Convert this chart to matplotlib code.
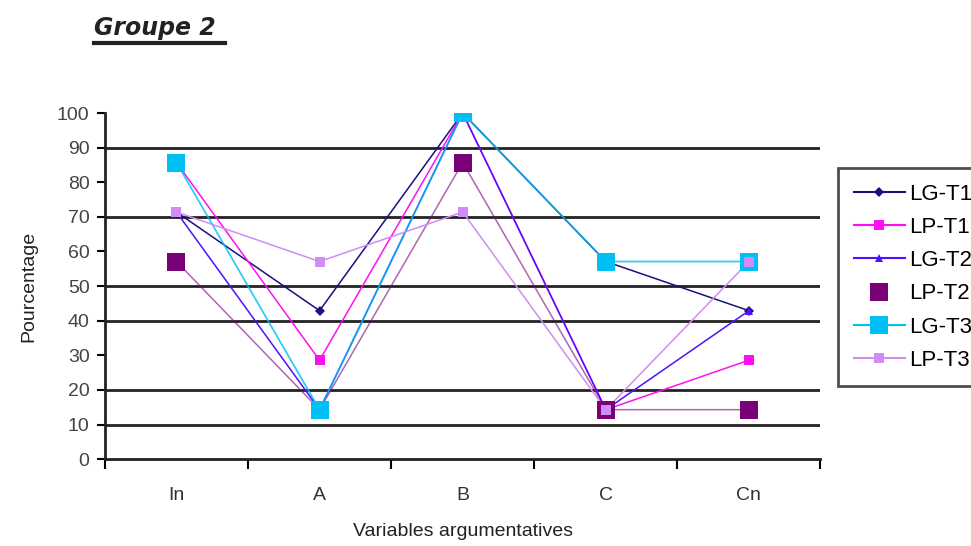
import matplotlib.pyplot as plt
from matplotlib.lines import Line2D

plt.rcParams['font.family'] = ['Liberation Sans', 'DejaVu Sans']

CATEGORIES = ["In", "A", "B", "C", "Cn"]
LG_T1 = [71.4, 42.9, 100.0, 57.1, 42.9]
LP_T1 = [85.7, 28.6, 100.0, 14.3, 28.6]
LG_T2 = [71.4, 14.3, 100.0, 14.3, 42.9]
LP_T2 = [57.1, 14.3, 85.7, 14.3, 14.3]
LG_T3 = [85.7, 14.3, 100.0, 57.1, 57.1]
LP_T3 = [71.4, 57.1, 71.4, 14.3, 57.1]
GRID_LEVELS = [10, 20, 40, 50, 70, 90]

# (label, values, color, marker, size, line alpha, line width)
SERIES = [
    ("LG-T1", LG_T1, "#1c0f80", "D", 5, 1.0, 1.1),
    ("LP-T1", LP_T1, "#ff10f0", "s", 7, 1.0, 1.1),
    ("LG-T2", LG_T2, "#5010ff", "^", 6, 1.0, 1.1),
    ("LP-T2", LP_T2, "#7a0078", "s", 13, 0.6, 1.1),
    ("LG-T3", LG_T3, "#00bff5", "s", 13, 0.8, 1.3),
    ("LP-T3", LP_T3, "#d08cf5", "s", 7, 1.0, 1.1),
]

fig = plt.figure(figsize=(9.71, 5.46), dpi=100)
ax = fig.add_axes([0.108, 0.159, 0.737, 0.634])
x = range(len(CATEGORIES))

for y in GRID_LEVELS:
    ax.axhline(y, color="#222222", lw=2.0, zorder=1)

handles = []
for label, vals, color, marker, ms, alpha, lw in SERIES:
    ax.plot(x, vals, color=color, lw=lw, alpha=alpha, zorder=2)
    ax.plot(x, vals, color=color, lw=0, marker=marker, markersize=ms,
            markeredgewidth=0, zorder=3)
    handles.append(Line2D([], [], color=color, lw=0 if label == "LP-T2" else 1.5,
                          marker=marker, markersize=ms, markeredgewidth=0,
                          label=label))

ax.set_xlim(-0.5, len(CATEGORIES) - 0.5)
ax.set_ylim(0, 100)
ax.set_yticks(range(0, 101, 10))
ax.set_xticks(list(x))
ax.set_xticklabels(CATEGORIES)
ax.set_xticks([i + 0.5 for i in range(-1, len(CATEGORIES))], minor=True)
ax.tick_params(axis="x", which="major", length=0, pad=20, labelsize=14,
               labelcolor="#333333")
ax.tick_params(axis="x", which="minor", length=7, width=1.5, direction="out")
ax.tick_params(axis="y", length=6, width=1.5, labelsize=14, labelcolor="#444444",
               pad=5)

for side in ("top", "right"):
    ax.spines[side].set_visible(False)
for side in ("left", "bottom"):
    ax.spines[side].set_linewidth(2.0)
    ax.spines[side].set_color("#222222")

ax.set_xlabel("Variables argumentatives", fontsize=14, color="#222222", labelpad=14)
ax.set_ylabel("Pourcentage", fontsize=14, color="#222222", labelpad=14)

leg = fig.legend(handles=handles, loc="upper left", bbox_to_anchor=(0.863, 0.692),
                 borderaxespad=0, frameon=True, fancybox=False,
                 edgecolor="#222222", fontsize=16, handlelength=2.3,
                 labelspacing=0.55, borderpad=0.7, handletextpad=0.2)
leg.get_frame().set_linewidth(2.0)

fig.text(0.097, 0.935, "Groupe 2", fontsize=17, style="italic", weight="bold",
         color="#222222", ha="left", va="baseline", family=["DejaVu Sans"])
fig.add_artist(Line2D([0.097, 0.232], [0.921, 0.921], color="#222222", lw=3,
                      transform=fig.transFigure))

fig.savefig("out.png", dpi=100)
